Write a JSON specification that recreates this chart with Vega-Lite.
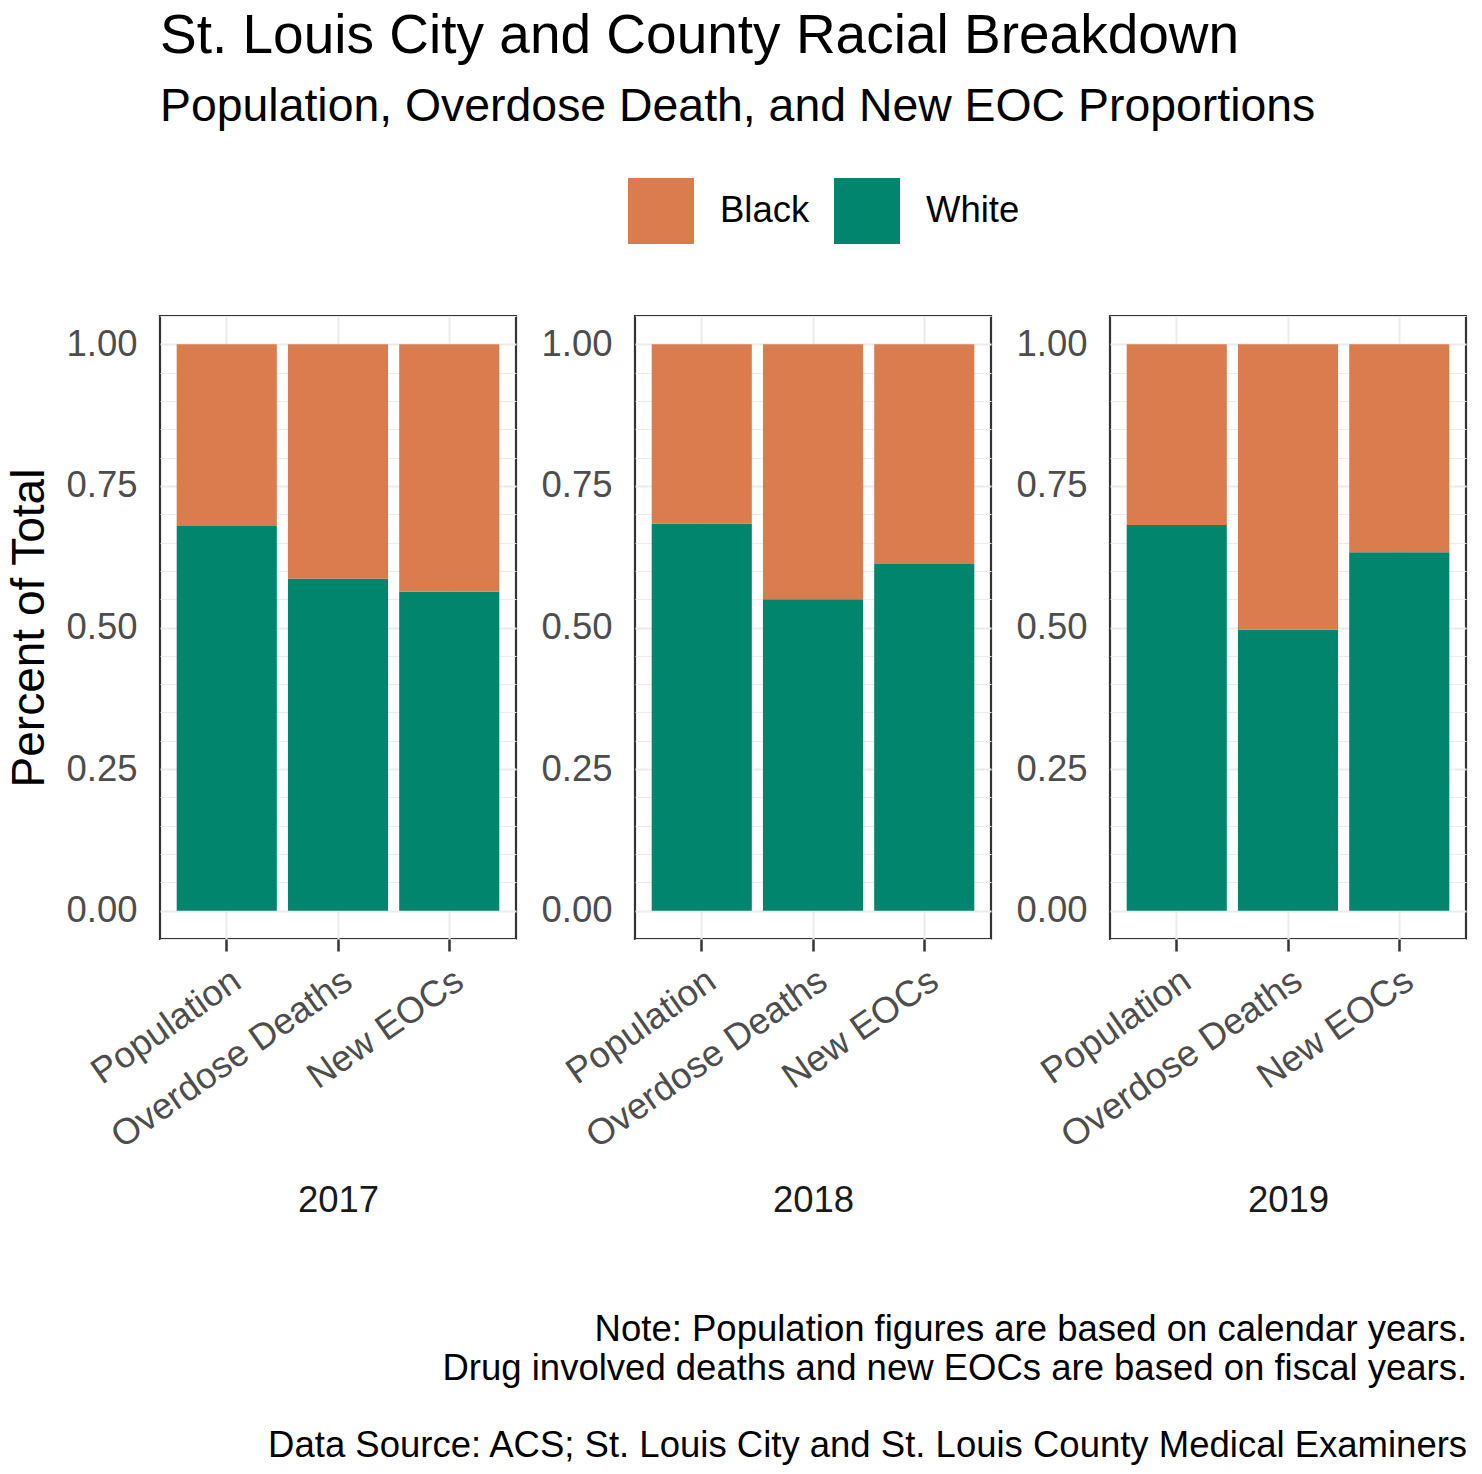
{
  "$schema": "https://vega.github.io/schema/vega-lite/v6.json",
  "background": "white",
  "padding": {"left": 5, "top": 8, "right": 16, "bottom": 2},
  "data": {"values": [
    {"year": 2017, "measure": "Population", "race": "White", "value": 0.679},
    {"year": 2017, "measure": "Population", "race": "Black", "value": 0.321},
    {"year": 2017, "measure": "Overdose Deaths", "race": "White", "value": 0.586},
    {"year": 2017, "measure": "Overdose Deaths", "race": "Black", "value": 0.414},
    {"year": 2017, "measure": "New EOCs", "race": "White", "value": 0.563},
    {"year": 2017, "measure": "New EOCs", "race": "Black", "value": 0.437},
    {"year": 2018, "measure": "Population", "race": "White", "value": 0.683},
    {"year": 2018, "measure": "Population", "race": "Black", "value": 0.317},
    {"year": 2018, "measure": "Overdose Deaths", "race": "White", "value": 0.550},
    {"year": 2018, "measure": "Overdose Deaths", "race": "Black", "value": 0.450},
    {"year": 2018, "measure": "New EOCs", "race": "White", "value": 0.612},
    {"year": 2018, "measure": "New EOCs", "race": "Black", "value": 0.388},
    {"year": 2019, "measure": "Population", "race": "White", "value": 0.681},
    {"year": 2019, "measure": "Population", "race": "Black", "value": 0.319},
    {"year": 2019, "measure": "Overdose Deaths", "race": "White", "value": 0.496},
    {"year": 2019, "measure": "Overdose Deaths", "race": "Black", "value": 0.504},
    {"year": 2019, "measure": "New EOCs", "race": "White", "value": 0.633},
    {"year": 2019, "measure": "New EOCs", "race": "Black", "value": 0.367}
  ]},
  "title": {
    "text": "St. Louis City and County Racial Breakdown",
    "subtitle": "Population, Overdose Death, and New EOC Proportions",
    "anchor": "start",
    "frame": "group",
    "fontSize": 55,
    "subtitleFontSize": 46.4,
    "font": "Liberation Sans",
    "subtitleFont": "Liberation Sans",
    "fontWeight": "normal",
    "color": "#000000",
    "subtitleColor": "#000000",
    "subtitlePadding": 19,
    "offset": 47
  },
  "vconcat": [
    {
      "title": {
        "text": [
          "Note: Population figures are based on calendar years.",
          "Drug involved deaths and new EOCs are based on fiscal years."
        ],
        "subtitle": "Data Source: ACS; St. Louis City and St. Louis County Medical Examiners",
        "orient": "bottom",
        "anchor": "end",
        "align": "right",
        "frame": "bounds",
        "font": "Liberation Sans",
        "subtitleFont": "Liberation Sans",
        "fontSize": 36.5,
        "subtitleFontSize": 36.5,
        "fontWeight": "normal",
        "color": "#000000",
        "subtitleColor": "#000000",
        "lineHeight": 39,
        "subtitleLineHeight": 39,
        "subtitlePadding": 41,
        "offset": 92
      },
      "spacing": 21,
      "hconcat": [
        {
          "width": 356,
          "height": 623,
          "transform": [{"filter": "datum.year == 2017"}],
          "mark": {"type": "bar"},
          "encoding": {
            "x": {"field": "measure", "type": "nominal", "sort": ["Population", "Overdose Deaths", "New EOCs"],
                  "scale": {"paddingInner": 0.1, "paddingOuter": 0.15},
                  "axis": {"title": "2017"}},
            "y": {"field": "value", "type": "quantitative", "stack": "zero",
                  "scale": {"domain": [-0.05, 1.05], "nice": false, "zero": false},
                  "axis": {"title": "Percent of Total"}},
            "color": {"field": "race", "type": "nominal", "scale": {"domain": ["Black", "White"], "range": ["#DB7C4F", "#01856D"]}},
            "order": {"field": "race", "sort": "descending"}
          }
        },
        {
          "width": 356,
          "height": 623,
          "transform": [{"filter": "datum.year == 2018"}],
          "mark": {"type": "bar"},
          "encoding": {
            "x": {"field": "measure", "type": "nominal", "sort": ["Population", "Overdose Deaths", "New EOCs"],
                  "scale": {"paddingInner": 0.1, "paddingOuter": 0.15},
                  "axis": {"title": "2018"}},
            "y": {"field": "value", "type": "quantitative", "stack": "zero",
                  "scale": {"domain": [-0.05, 1.05], "nice": false, "zero": false},
                  "axis": {"title": null}},
            "color": {"field": "race", "type": "nominal", "scale": {"domain": ["Black", "White"], "range": ["#DB7C4F", "#01856D"]}},
            "order": {"field": "race", "sort": "descending"}
          }
        },
        {
          "width": 356,
          "height": 623,
          "transform": [{"filter": "datum.year == 2019"}],
          "mark": {"type": "bar"},
          "encoding": {
            "x": {"field": "measure", "type": "nominal", "sort": ["Population", "Overdose Deaths", "New EOCs"],
                  "scale": {"paddingInner": 0.1, "paddingOuter": 0.15},
                  "axis": {"title": "2019"}},
            "y": {"field": "value", "type": "quantitative", "stack": "zero",
                  "scale": {"domain": [-0.05, 1.05], "nice": false, "zero": false},
                  "axis": {"title": null}},
            "color": {"field": "race", "type": "nominal", "scale": {"domain": ["Black", "White"], "range": ["#DB7C4F", "#01856D"]}},
            "order": {"field": "race", "sort": "descending"}
          }
        }
      ],
      "resolve": {"scale": {"x": "independent", "y": "independent"}}
    }
  ],
  "config": {
    "font": "Liberation Sans",
    "view": {"stroke": "#333333", "strokeWidth": 2.2},
    "axisX": {
      "grid": true,
      "bandPosition": 0.5,
      "labelAngle": -35,
      "labelAlign": "right",
      "labelBaseline": "top",
      "labelLimit": 0,
      "titleFontSize": 36.5,
      "titleColor": "#1A1A1A",
      "titlePadding": 43
    },
    "axisY": {
      "values": [0, 0.125, 0.25, 0.375, 0.5, 0.625, 0.75, 0.875, 1],
      "labelExpr": "datum.value % 0.25 == 0 ? format(datum.value, '.2f') : ''",
      "tickOpacity": {"condition": {"test": "datum.value % 0.25 == 0", "value": 1}, "value": 0},
      "gridWidth": {"condition": {"test": "datum.value % 0.25 == 0", "value": 2}, "value": 1},
      "titleFontSize": 46,
      "titleColor": "#000000",
      "titlePadding": 12
    },
    "axis": {
      "domain": false,
      "labelFont": "Liberation Sans",
      "labelFontSize": 36.5,
      "labelColor": "#4D4D4D",
      "tickColor": "#333333",
      "tickWidth": 2.5,
      "tickSize": 12,
      "labelPadding": 11,
      "gridColor": "#EBEBEB",
      "gridWidth": 2,
      "titleFont": "Liberation Sans",
      "titleFontWeight": "normal"
    },
    "legend": {
      "orient": "none",
      "legendX": 468,
      "legendY": -138,
      "direction": "horizontal",
      "title": null,
      "symbolType": "square",
      "symbolSize": 4356,
      "symbolStrokeWidth": 0,
      "symbolOpacity": 1,
      "labelFont": "Liberation Sans",
      "labelFontSize": 36.5,
      "labelColor": "#000000",
      "labelOffset": 26,
      "columnPadding": 24
    }
  }
}
